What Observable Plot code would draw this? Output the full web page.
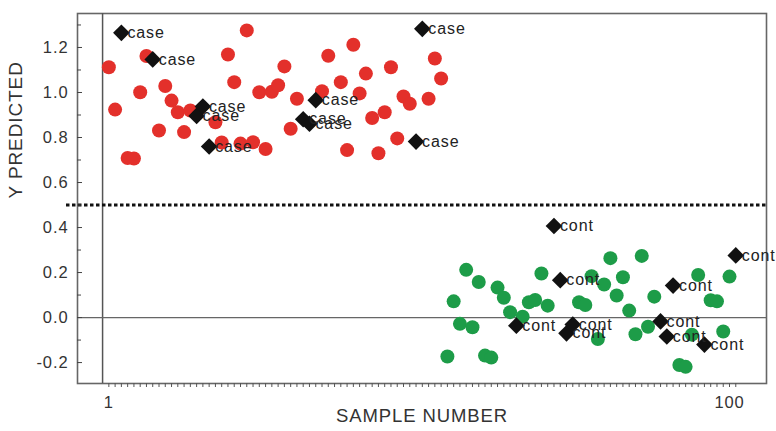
<!DOCTYPE html>
<html>
<head>
<meta charset="utf-8">
<script src="https://cdn.jsdelivr.net/npm/d3@7"></script>
<script src="https://cdn.jsdelivr.net/npm/@observablehq/plot@0.6"></script>
<style>
  body { margin: 0; background: #fff; }
  #chart svg text { letter-spacing: 0.9px; }
</style>
</head>
<body>
<div id="chart"></div>
<script>
// Case samples (1–54): plain predictions and the labelled "case" samples
const caseDotSample = [1, 2, 4, 5, 6, 7, 9, 10, 11, 12, 13, 14, 18, 19, 20, 21, 22, 23, 24, 25, 26, 27, 28, 29, 30, 31, 35, 36, 38, 39, 40, 41, 42, 43, 44, 45, 46, 47, 48, 49, 52, 53, 54];
const caseDotValue  = [1.112, 0.924, 0.709, 0.707, 1.001, 1.162, 0.831, 1.029, 0.964, 0.912, 0.824, 0.920, 0.868, 0.778, 1.169, 1.046, 0.773, 1.276, 0.779, 1.001, 0.749, 1.003, 1.032, 1.116, 0.839, 0.972, 1.006, 1.163, 1.046, 0.744, 1.212, 0.996, 1.084, 0.887, 0.730, 0.912, 1.112, 0.796, 0.982, 0.950, 0.972, 1.151, 1.062];
const caseMarkSample = [3, 8, 15, 16, 17, 32, 33, 34, 50, 51];
const caseMarkValue  = [1.265, 1.147, 0.896, 0.938, 0.760, 0.881, 0.861, 0.966, 0.782, 1.283];

// Control samples (55–101): plain predictions and the labelled "cont" samples
const contDotSample = [55, 56, 57, 58, 59, 60, 61, 62, 63, 64, 65, 67, 68, 69, 70, 71, 76, 77, 78, 79, 80, 81, 82, 83, 84, 85, 86, 87, 88, 92, 93, 94, 95, 97, 98, 99, 100];
const contDotValue  = [-0.173, 0.072, -0.028, 0.212, -0.043, 0.158, -0.169, -0.178, 0.133, 0.088, 0.024, 0.004, 0.068, 0.078, 0.196, 0.053, 0.068, 0.056, 0.184, -0.095, 0.147, 0.264, 0.098, 0.179, 0.031, -0.074, 0.274, -0.041, 0.093, -0.211, -0.219, -0.076, 0.189, 0.077, 0.072, -0.062, 0.182];
const contMarkSample = [66, 72, 73, 74, 75, 89, 90, 91, 96, 101];
const contMarkValue  = [-0.036, 0.407, 0.166, -0.070, -0.031, -0.017, -0.084, 0.142, -0.120, 0.276];

// Axis ticks and reference lines
const yMajorTicks = [-0.2, 0, 0.2, 0.4, 0.6, 0.8, 1.0, 1.2];
const yMinorTicks = [-0.1, 0.1, 0.3, 0.5, 0.7, 0.9, 1.1, 1.3];
const xLabelTicks = [1, 100];
const xMinorTicks = d3.range(1, 102);
const threshold = 0.5;
const baseline = 0;
const originSample = 0;

const caseColor = "#e3302b";
const contColor = "#1d9c48";

const rows = (samples, values) => samples.map((s, i) => ({sample: s, value: values[i]}));
const caseDots = rows(caseDotSample, caseDotValue);
const caseMarks = rows(caseMarkSample, caseMarkValue);
const contDots = rows(contDotSample, contDotValue);
const contMarks = rows(contMarkSample, contMarkValue);

const chart = Plot.plot({
  width: 776,
  height: 431,
  marginLeft: 77,
  marginRight: 10,
  marginTop: 13,
  marginBottom: 48,
  style: {fontFamily: "'Liberation Sans', Arial, sans-serif", background: "#fff", color: "#333"},
  x: {domain: [-4, 105.9], axis: null},
  y: {domain: [-0.293, 1.351], axis: null},
  marks: [
    Plot.frame({stroke: "#666", strokeWidth: 1.6}),
    Plot.ruleX([originSample], {stroke: "#555", strokeWidth: 1.5}),
    Plot.ruleY([baseline], {stroke: "#666", strokeWidth: 1.3}),
    Plot.ruleY([threshold], {stroke: "#111", strokeWidth: 3, strokeDasharray: "3.5,2.5", insetLeft: -11}),

    // y axis: inward ticks with one-decimal labels
    Plot.axisY({ticks: yMinorTicks, tickSize: 4, dx: 4, tickFormat: () => "", label: null, stroke: "#444"}),
    Plot.axisY({ticks: yMajorTicks, tickSize: 5, dx: 5, tickPadding: 9, tickFormat: d => d.toFixed(1),
      label: null, stroke: "#444", fontSize: 16.5, fill: "#333"}),

    // x axis: one tick per sample, labels at 1 and 100
    Plot.axisX({ticks: xMinorTicks, tickSize: 4, tickFormat: () => "", label: null, stroke: "#555"}),
    Plot.axisX({ticks: xLabelTicks, tickSize: 0, tickPadding: 13, tickFormat: d => String(d),
      label: null, fontSize: 16.5, fill: "#333"}),

    Plot.text(["SAMPLE NUMBER"], {text: d => d, frameAnchor: "bottom", dy: 38, fontSize: 18.5, fill: "#333"}),
    Plot.text(["Y PREDICTED"], {text: d => d, frameAnchor: "left", dx: -62, rotate: -90, fontSize: 19, fill: "#333"}),

    Plot.dot(caseDots, {x: "sample", y: "value", r: 7, fill: caseColor, stroke: "none"}),
    Plot.dot(contDots, {x: "sample", y: "value", r: 7, fill: contColor, stroke: "none"}),
    Plot.dot(caseMarks, {x: "sample", y: "value", symbol: "diamond2", r: 7.5, fill: "#111", stroke: "none"}),
    Plot.dot(contMarks, {x: "sample", y: "value", symbol: "diamond2", r: 7.5, fill: "#111", stroke: "none"}),
    Plot.text(caseMarks, {x: "sample", y: "value", text: () => "case", dx: 6, textAnchor: "start", fontSize: 16, fill: "#222"}),
    Plot.text(contMarks, {x: "sample", y: "value", text: () => "cont", dx: 6, textAnchor: "start", fontSize: 16, fill: "#222"})
  ]
});

document.getElementById("chart").appendChild(chart);
</script>
</body>
</html>
